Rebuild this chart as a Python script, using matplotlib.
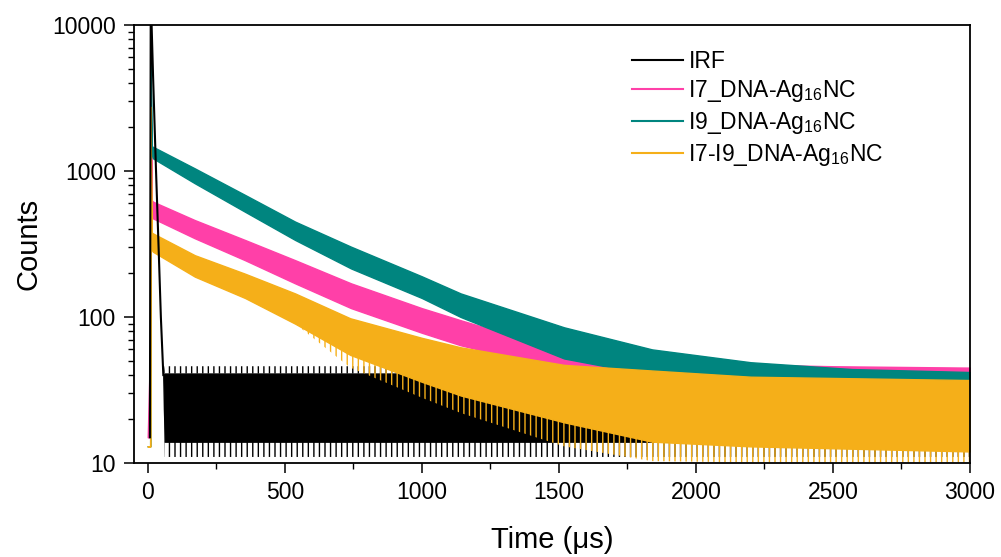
import numpy as np
import matplotlib
matplotlib.use("Agg")
import matplotlib.pyplot as plt
from matplotlib.lines import Line2D
from matplotlib.ticker import LogLocator, NullFormatter

plt.rcParams['font.family'] = ['Liberation Sans', 'DejaVu Sans']
plt.rcParams['mathtext.fontset'] = 'custom'
plt.rcParams['mathtext.rm'] = 'Liberation Sans'
plt.rcParams['mathtext.it'] = 'Liberation Sans:italic'
plt.rcParams['hatch.linewidth'] = 1.0

# ---- data (envelopes of the noisy decay traces) ----
labels = ['IRF', 'I7_DNA-Ag$_{16}$NC', 'I9_DNA-Ag$_{16}$NC', 'I7-I9_DNA-Ag$_{16}$NC']
colors = ['#000000', '#FF40A8', '#00857F', '#F5AF19']

# IRF: sharp peak, then flat noisy background
t_irf_peak = [8, 11, 13, 20, 30, 40, 48, 57]
irf_peak = [15, 12000, 12000, 4200, 1050, 290, 100, 40]
t_irf = [57, 62, 150, 500, 1000, 1500, 2000, 2500, 3000]
irf_hi = [40, 41, 41, 41, 41, 41, 41, 41, 41]
irf_lo = [38, 14, 14, 14, 14, 14, 14, 14, 14]
irf_spike_lo = [38, 11, 11, 11, 11, 11, 11, 11, 11]
irf_spike_hi = [40, 46, 46, 46, 46, 45, 44, 44, 44]

# I7_DNA-Ag16NC
t_i7 = [0, 6, 9, 11, 15, 19, 172, 355, 538, 742, 1000, 1142, 1500, 2000, 2500, 3000]
i7_hi = [15, 40, 40, 2500, 630, 617, 461, 337, 245, 170, 115, 95, 60, 48, 46, 45]
i7_lo = [15, 15, 15, 2500, 500, 474, 346, 245, 170, 115, 78, 64, 44, 30, 28, 27]

# I9_DNA-Ag16NC
t_i9 = [0, 9, 10, 14, 19, 172, 355, 538, 742, 1000, 1142, 1519, 1840, 2200, 2570, 3000]
i9_hi = [13, 13, 7500, 1450, 1466, 1042, 686, 450, 303, 190, 145, 85, 60, 49, 44, 42]
i9_lo = [13, 13, 7500, 1300, 1222, 824, 526, 337, 215, 135, 100, 52, 40, 35, 32, 30]

# I7-I9_DNA-Ag16NC
t_mix = [0, 9, 10, 14, 19, 172, 355, 538, 739, 1000, 1142, 1519, 1840, 2200, 3000]
mix_hi = [13, 13, 2750, 380, 374, 265, 198, 145, 98, 72, 62, 47, 43, 39, 37]
mix_lo = [13, 13, 2750, 290, 280, 189, 135, 90, 55, 36, 29, 19, 14, 13, 12]
mix_spike_lo = [13, 13, 2750, 290, 280, 189, 135, 90, 45, 28, 22, 13, 10.3, 10.1, 10.1]

bands = [(t_irf, irf_lo, irf_hi), (t_i7, i7_lo, i7_hi),
         (t_i9, i9_lo, i9_hi), (t_mix, mix_lo, mix_hi)]
spike_zones = [[(t_irf, irf_spike_lo, irf_lo), (t_irf, irf_hi, irf_spike_hi)],
               [], [], [(t_mix, mix_spike_lo, mix_lo)]]

fig = plt.figure(figsize=(10.01, 5.57), dpi=100)
ax = fig.add_axes([134/1001, 1-463/557, (970-134)/1001, (463-25)/557])

for (t, lo, hi), zones, c in zip(bands, spike_zones, colors):
    for ts, zlo, zhi in zones:
        ax.fill_between(ts, zlo, zhi, facecolor='none', edgecolor=c,
                        linewidth=0, hatch='|||')
    ax.fill_between(t, lo, hi, facecolor=c, edgecolor=c, linewidth=1.0)

ax.plot(t_irf_peak, irf_peak, color=colors[0], lw=1.5, zorder=5)

ax.set_yscale('log')
ax.set_xlim(-50, 3000)
ax.set_ylim(10, 10000)
ax.set_xticks([0, 500, 1000, 1500, 2000, 2500, 3000])
ax.set_xticks([250, 750, 1250, 1750, 2250, 2750], minor=True)
ax.set_yticks([10, 100, 1000, 10000])
ax.set_yticklabels(['10', '100', '1000', '10000'])
ax.yaxis.set_minor_locator(LogLocator(base=10, subs=np.arange(2, 10), numticks=20))
ax.yaxis.set_minor_formatter(NullFormatter())

ax.tick_params(which='major', direction='out', length=7, width=1.1, labelsize=16.5, pad=6)
ax.tick_params(which='minor', direction='out', length=4, width=1.0)
for s in ax.spines.values():
    s.set_linewidth(1.3)

ax.set_xlabel('Time (\u03bcs)', fontsize=21, labelpad=16)
ax.set_ylabel('Counts', fontsize=21, labelpad=7)

handles = [Line2D([], [], color=c, lw=1.5) for c in colors]
ax.legend(handles, labels, loc='upper left', bbox_to_anchor=(0.596, 0.944),
          frameon=False, fontsize=16.5, handlelength=2.2, handletextpad=0.25,
          labelspacing=0.25, borderpad=0, borderaxespad=0)

fig.savefig('out.png', dpi=100)
